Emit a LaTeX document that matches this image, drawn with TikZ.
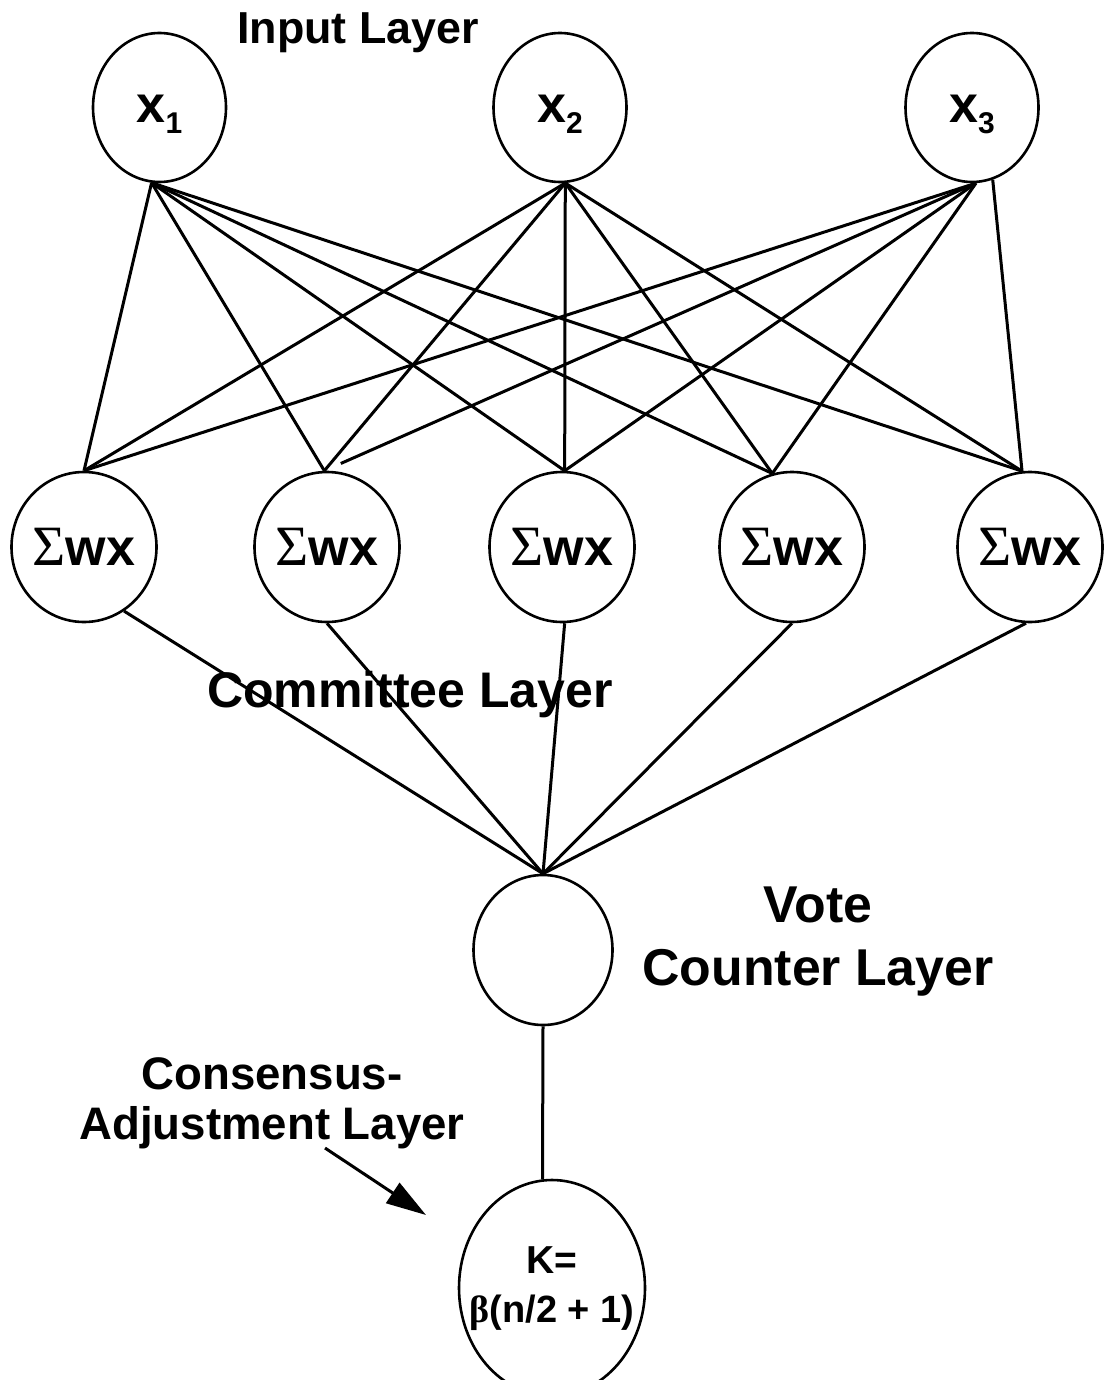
\documentclass[tikz,border=0pt]{standalone}
\usepackage{fontspec}
\setmainfont{Liberation Sans}
\newfontfamily\greekfont{Liberation Serif}
\usetikzlibrary{shapes.geometric,arrows.meta}

% input symbol with its index, boxed so that it sits a little below the centre
\newcommand{\inlabel}[1]{\raisebox{0pt}[15pt][0pt]{\fontsize{26}{26}\selectfont\bfseries x\raisebox{-5.5pt}{\fontsize{15}{15}\selectfont #1}}}
\newcommand{\sumlabel}{{\fontsize{28.5}{28.5}\selectfont\greekfont Σ}{\fontsize{26}{26}\selectfont\bfseries wx}}
% threshold formula; zero width so the ellipse keeps its own size
\newcommand{\klabel}{\makebox[0pt]{\fontsize{19}{24.5}\selectfont\bfseries
  \begin{tabular}{@{}c@{}}{\fontsize{19.5}{24.5}\selectfont K=}\\{\greekfont β}(n/2\;+\;1)\end{tabular}}}

\begin{document}
\begin{tikzpicture}[x=0.5pt,y=-0.5pt,
  neuron/.style={draw, ellipse, line width=1.3pt, inner sep=0pt},
  inp/.style={neuron, minimum width=66.5pt, minimum height=74.5pt},
  comm/.style={neuron, minimum width=71pt, minimum height=75pt},
  wire/.style={line width=1.5pt},
  lbl/.style={align=center, inner sep=0pt}
]
\useasboundingbox (0,0) rectangle (1104,1380);

% input layer
\node[inp] (x1) at (159.5,107.5) {\inlabel{1}};
\node[inp] (x2) at (560,107.5) {\inlabel{2}};
\node[inp] (x3) at (972,107.5) {\inlabel{3}};

% committee layer
\foreach \i/\xx in {1/84,2/327,3/562,4/792,5/1030}
  \node[comm] (s\i) at (\xx,547) {\sumlabel};

% vote counter and consensus-adjustment neurons
\node[neuron, minimum width=69.5pt, minimum height=75pt] (v) at (543,950) {};
\node[neuron, minimum width=93pt, minimum height=108pt] (k) at (552,1288) {\klabel};

% layer captions
\node[lbl, font=\fontsize{22.4}{22.4}\selectfont\bfseries] (tin) at (358,33) {Input Layer};
\node[lbl, font=\fontsize{25}{25}\selectfont\bfseries] (tcom) at (410,695) {Committee Layer};
\node[lbl, font=\fontsize{25.9}{31.5}\selectfont\bfseries] (tvote) at (818,942) {Vote\\Counter Layer};
\node[lbl, font=\fontsize{22.8}{25}\selectfont\bfseries] (tcons) at (272,1103) {Consensus-\\Adjustment Layer};

% fan-in points on each neuron
\coordinate (a1) at (x1.-96);
\coordinate (a2) at (x2.-86);
\coordinate (a3) at (x3.-87);
\coordinate (a3b) at (x3.-74);
\coordinate (b1) at (s1.90);
\coordinate (b2) at (s2.92);
\coordinate (b3) at (s3.88);
\coordinate (b4) at (s4.105);
\coordinate (b5) at (s5.96);

% input -> committee connections
\foreach \j in {1,...,5} {
  \draw[wire] (a1) -- (b\j);
  \draw[wire] (a2) -- (b\j);
}
\draw[wire] (a3) -- (b1);
\draw[wire, shorten >=9pt] (a3) -- (b2);
\draw[wire] (a3) -- (b3);
\draw[wire] (a3) -- (b4);
\draw[wire] (a3b) -- (b5);

% committee -> vote counter
\draw[wire] (s1.-58) -- (v.north);
\draw[wire] (s2.-90) -- (v.north);
\draw[wire] (s3.-88) -- (v.north);
\draw[wire] (s4.-90) -- (v.north);
\draw[wire] (s5.-93) -- (v.north);

% vote counter -> consensus adjustment
\draw[wire] (v.south) -- (k.95);

% pointer to the consensus-adjustment neuron
\coordinate (ptail) at (325,1148);
\coordinate (phead) at (426,1215);
\draw[wire, -{Triangle[length=20pt,width=12pt]}] (ptail) -- (phead);
\end{tikzpicture}
\end{document}
